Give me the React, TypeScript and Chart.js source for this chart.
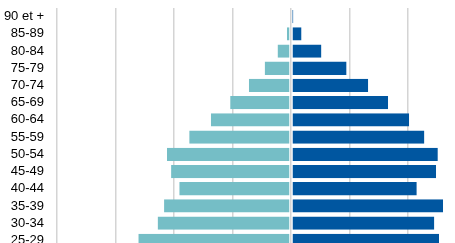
import React, { useEffect, useRef } from "react";
import { Chart, registerables } from "chart.js";

Chart.register(...registerables);

const ageGroups = [
  "90 et +", "85-89", "80-84", "75-79", "70-74", "65-69", "60-64",
  "55-59", "50-54", "45-49", "40-44", "35-39", "30-34", "25-29",
];
// left side (shown as negative values)
const femmes = [0.01, 0.07, 0.23, 0.45, 0.72, 1.04, 1.37, 1.74, 2.12, 2.05, 1.91, 2.17, 2.28, 2.61];
// right side
const hommes = [0.04, 0.18, 0.52, 0.95, 1.32, 1.66, 2.02, 2.28, 2.51, 2.48, 2.15, 2.6, 2.45, 2.53];

const leftColor = "#75BEC6";
const rightColor = "#0056A0";

export default function App() {
  const ref = useRef<HTMLCanvasElement | null>(null);
  useEffect(() => {
    if (!ref.current) return;
    const chart = new Chart(ref.current, {
      type: "bar",
      data: {
        labels: ageGroups,
        datasets: [
          {
            data: femmes.map((v) => -v),
            backgroundColor: leftColor,
            borderColor: "#ffffff",
            borderWidth: { left: 0, right: 1, top: 0, bottom: 0 },
            borderSkipped: false,
            barPercentage: 0.772,
            categoryPercentage: 1,
          },
          {
            data: hommes,
            backgroundColor: rightColor,
            borderColor: "#ffffff",
            borderWidth: { left: 1, right: 0, top: 0, bottom: 0 },
            borderSkipped: false,
            barPercentage: 0.772,
            categoryPercentage: 1,
          },
        ],
      },
      options: {
        indexAxis: "y",
        animation: false,
        responsive: false,
        maintainAspectRatio: false,
        layout: { padding: { top: 8, bottom: 8, left: 0, right: 0 } },
        plugins: { legend: { display: false }, tooltip: { enabled: false } },
        scales: {
          x: {
            stacked: true,
            min: -4,
            max: 4,
            ticks: { display: false, stepSize: 1 },
            grid: { color: "#d4d4d4", lineWidth: 1.5, drawTicks: false },
            border: { display: false },
          },
          y: {
            stacked: true,
            grid: {
              display: true,
              drawOnChartArea: false,
              drawTicks: true,
              tickLength: 13,
              color: "rgba(0,0,0,0)",
            },
            border: { display: false },
            ticks: {
              padding: 0,
              autoSkip: false,
              color: "#000000",
              font: { family: "'Liberation Sans', Arial, sans-serif", size: 13 },
            },
            afterFit: (scale: any) => {
              scale.width = 57;
            },
          },
        },
      },
    });
    return () => chart.destroy();
  }, []);
  return (
    <div
      style={{
        position: "fixed",
        left: 0,
        top: 0,
        width: 455,
        height: 243,
        overflow: "hidden",
        background: "#ffffff",
      }}
    >
      <canvas ref={ref} width={525} height={257} style={{ display: "block" }} />
    </div>
  );
}
